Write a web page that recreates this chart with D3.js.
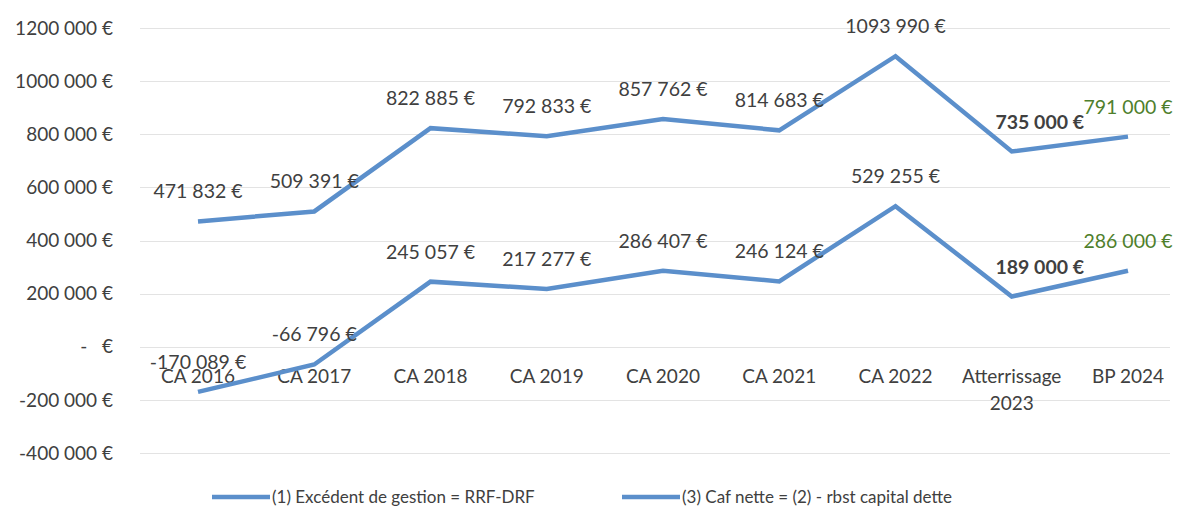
<!DOCTYPE html>
<html lang="fr">
  <head>
    <meta charset="UTF-8">
    <title>Excédent de gestion et CAF nette</title>
    <script src="https://d3js.org/d3.v7.min.js"></script>
    <style>
      body { margin: 0; background: #fff; }
      svg text { font-family: Lato, "Open Sans", sans-serif; fill: #404040; }
    </style>
  </head>
  <body>
    <script>
      const categories = ["CA 2016", "CA 2017", "CA 2018", "CA 2019", "CA 2020", "CA 2021", "CA 2022", "Atterrissage 2023", "BP 2024"];
      const excedent = [471832, 509391, 822885, 792833, 857762, 814683, 1093990, 735000, 791000];
      const cafNette = [-170089, -66796, 245057, 217277, 286407, 246124, 529255, 189000, 286000];
      const yTicks = [1200000, 1000000, 800000, 600000, 400000, 200000, 0, -200000, -400000];
      const yTickLabels = ["1200 000 €", "1000 000 €", "800 000 €", "600 000 €", "400 000 €", "200 000 €", "-   €", "-200 000 €", "-400 000 €"];
      const seriesNames = ["(1) Excédent de gestion = RRF-DRF", "(3) Caf nette = (2) - rbst capital dette"];

      const w = 1179, h = 512;
      const blue = "#5b8fcb";
      const green = "#4f7f2c";

      const svg = d3.select("body").append("svg")
                    .attr("width", w)
                    .attr("height", h);

      const x = d3.scalePoint().domain(categories).range([198, 1128]);
      const y = d3.scaleLinear().domain([-400000, 1200000]).range([453, 28]);

      // gridlines
      svg.append("g").selectAll("line")
         .data(yTicks)
         .join("line")
         .attr("x1", 140).attr("x2", 1170)
         .attr("y1", d => Math.round(y(d)) + 0.5)
         .attr("y2", d => Math.round(y(d)) + 0.5)
         .attr("stroke", "#e3e3e3")
         .attr("stroke-width", 1);

      // y labels
      svg.append("g").selectAll("text")
         .data(yTicks)
         .join("text")
         .attr("x", 113)
         .attr("y", d => y(d))
         .attr("dy", "0.35em")
         .attr("text-anchor", "end")
         .style("font-size", "19px")
         .style("white-space", "pre")
         .text((d, i) => yTickLabels[i]);

      // category labels (axis crosses at 0)
      const cat = svg.append("g").selectAll("text")
         .data(categories)
         .join("text")
         .attr("x", d => x(d))
         .attr("y", y(0) + 36)
         .attr("text-anchor", "middle")
         .style("font-size", "19px");
      cat.each(function(d) {
        const parts = d === "Atterrissage 2023" ? ["Atterrissage", "2023"] : [d];
        d3.select(this).selectAll("tspan")
          .data(parts)
          .join("tspan")
          .attr("x", x(d))
          .attr("dy", (p, i) => i === 0 ? 0 : 27)
          .text(p => p);
      });

      const fmt = v => {
        let s = d3.format(",.0f")(v).replace(/,/g, " ").replace("\u2212", "-");
        if (Math.abs(v) >= 1000000) s = s.replace(" ", "");
        return s + " €";
      };

      const line = d3.line()
                     .x((d, i) => x(categories[i]))
                     .y(d => y(d));

      [excedent, cafNette].forEach(series => {
        svg.append("path")
           .datum(series)
           .attr("d", line)
           .attr("fill", "none")
           .attr("stroke", blue)
           .attr("stroke-width", 4.5)
           .attr("stroke-linejoin", "miter");

        svg.append("g").selectAll("text")
           .data(series)
           .join("text")
           .attr("x", (d, i) => x(categories[i]) + (i === 7 ? 28 : 0))
           .attr("y", d => y(d) - 23)
           .attr("text-anchor", "middle")
           .style("font-size", "19.5px")
           .style("font-weight", (d, i) => i === 7 ? "bold" : "normal")
           .style("fill", (d, i) => i === 8 ? green : "#404040")
           .text(d => fmt(d));
      });

      // legend
      const legX = [212, 622];
      const leg = svg.append("g").selectAll("g")
         .data(seriesNames)
         .join("g")
         .attr("transform", (d, i) => `translate(${legX[i]},497)`);
      leg.append("line")
         .attr("x1", 0).attr("x2", 58)
         .attr("stroke", blue)
         .attr("stroke-width", 4.5);
      leg.append("text")
         .attr("x", 60)
         .attr("dy", "0.35em")
         .style("font-size", "17px")
         .text(d => d);
    </script>
  </body>
</html>
